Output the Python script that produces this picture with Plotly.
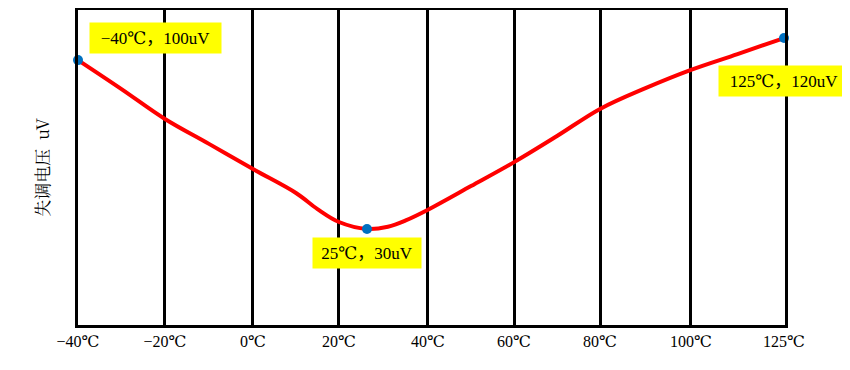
import numpy as np
import plotly.graph_objects as go

# ---- data ----
tick_temps = [-40, -20, 0, 20, 40, 60, 80, 100, 125]
tick_labels = ["−40℃", "−20℃", "0℃", "20℃", "40℃", "60℃", "80℃", "100℃", "125℃"]

curve_temps = [-40, -30, -20, -10, 0, 10, 15, 20, 26.3, 31, 35, 40, 50, 60, 70, 80, 90, 100, 112.5, 125]
curve_vals = [84.1, 74.9, 65.4, 57.5, 49.5, 41.9, 36.8, 32.7, 30.5, 31.2, 33.2, 36.6, 44.1, 51.7, 60.0, 68.6, 75.2, 81.0, 86.0, 91.1]

key_temps = [-40, 26.3, 125]
key_vals = [84.1, 30.5, 91.1]
key_labels = ["−40℃，100uV", "25℃，30uV", "125℃，120uV"]

y_title = "失调电压  uV"

# hand-spaced temperature ticks (as in the original drawing)
tick_pos = [0, 0.984, 1.98, 2.953, 3.96, 4.934, 5.907, 6.936, 7.989]
def to_pos(t):
    return np.interp(t, tick_temps, tick_pos)

FONT = "Liberation Serif, DejaVu Serif, Noto Sans CJK SC, serif"
CJK = "Noto Serif CJK SC, Noto Sans CJK SC, serif"

fig = go.Figure()
fig.add_trace(go.Scatter(
    x=to_pos(curve_temps), y=curve_vals, mode="lines",
    line=dict(color="#FF0000", width=4, shape="spline", smoothing=1.0),
    hoverinfo="skip", showlegend=False, cliponaxis=False))
fig.add_trace(go.Scatter(
    x=to_pos(key_temps), y=key_vals, mode="markers",
    marker=dict(color="#0070C0", size=10),
    showlegend=False, cliponaxis=False))

# label boxes
boxes = [(0.877, 91.1, 131), (3.27, 23.0, 108), (7.99, 77.5, 130)]
for (bx, by, bw), txt in zip(boxes, key_labels):
    fig.add_annotation(x=bx, y=by, xref="x", yref="y", text=txt, showarrow=False,
                       bgcolor="#FFFF00", borderpad=0, width=bw, height=30,
                       font=dict(family=FONT, size=17, color="black"),
                       xanchor="center", yanchor="middle")

fig.update_xaxes(range=[0, 8], tickvals=tick_pos, ticktext=tick_labels,
                 showgrid=True, gridcolor="black", gridwidth=3,
                 showline=True, linecolor="black", linewidth=3, mirror=True,
                 zeroline=False, ticks="", tickfont=dict(family=FONT, size=16, color="black"))
fig.update_yaxes(range=[0, 100], showticklabels=False, showgrid=False, zeroline=False,
                 showline=True, linecolor="black", linewidth=3, mirror=True, ticks="",
                 title=dict(text=y_title, font=dict(family=CJK, size=17, color="black"), standoff=22))

# page body has an 8px margin, so margins are shifted accordingly
fig.update_layout(width=850, height=370, margin=dict(l=70, r=73, t=2, b=53, autoexpand=False),
                  plot_bgcolor="white", paper_bgcolor="white")

fig.write_html("out.html")
